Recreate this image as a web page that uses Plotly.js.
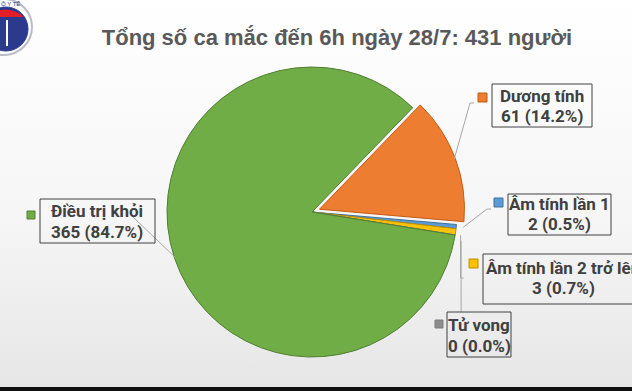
<!DOCTYPE html>
<html>
<head>
<meta charset="utf-8">
<script src="https://cdn.plot.ly/plotly-3.0.1.min.js"></script>
<style>
  html, body { margin: 0; padding: 0; }
  body { width: 632px; height: 391px; overflow: hidden;
         background: linear-gradient(to bottom, #ffffff 0%, #f6f6f6 55%, #e6e6e6 100%); }
  #chart { width: 632px; height: 391px; }
</style>
</head>
<body>
<div id="chart"></div>
<script>
// ---- data ----
const titleText = "Tổng số ca mắc đến 6h ngày 28/7: 431 người";
const categories = ["Dương tính", "Âm tính lần 1", "Âm tính lần 2 trở lên", "Tử vong", "Điều trị khỏi"];
const values = [61, 2, 3, 0, 365];
const percentLabels = ["14.2%", "0.5%", "0.7%", "0.0%", "84.7%"];
const sliceColors = ["#ED7D31", "#5B9BD5", "#FFC000", "#A5A5A5", "#70AD47"];
const sliceLines = ["#C55A11", "#41719C", "#BF9000", "#7F7F7F", "#507E32"];
const squareColors = ["#ED7D31", "#5B9BD5", "#FFC000", "#8C8C8C", "#70AD47"];

// ---- layout geometry (pixels) ----
const W = 632, H = 391;
const px = x => x / W;
const py = y => 1 - y / H;
const cx = 312, cy = 212, R = 145;
const pull = 0.055;
const rotation = 44;
const domHalfH = R * (1 + pull);

// label boxes: [left, right, top, bottom], text centre x, line y's, square
const labelBoxes = [
  {box: [492, 592, 84, 127], tx: 542, y1: 96, y2: 116, sq: [478, 487, 93, 102]},
  {box: [508, 611, 194, 235], tx: 559, y1: 204, y2: 224, sq: [494, 503, 198, 207]},
  {box: [483, 645, 254, 304], tx: 563, y1: 268, y2: 288, sq: [469, 478, 259, 268]},
  {box: [447, 511, 312, 357], tx: 479, y1: 325, y2: 346, sq: [435, 443, 320, 328]},
  {box: [40, 155, 199, 243], tx: 97, y1: 211, y2: 232, sq: [27, 35, 211, 219]}
];

// slice mid angles from data
const total = values.reduce((a, b) => a + b, 0);
let cum = 0;
const midAngles = values.map(v => { const a = rotation + (cum + v / 2) / total * 360; cum += v; return a; });
function piePt(i, rr) {
  const a = midAngles[i] * Math.PI / 180;
  let ox = cx, oy = cy;
  if (i === 0) { ox += R * pull * Math.sin(a); oy -= R * pull * Math.cos(a); }
  return [ox + rr * Math.sin(a), oy - rr * Math.cos(a)];
}

const shapes = [];
const annotations = [];
const line = {color: "#A6A6A6", width: 1};

// leader lines
{
  const p0 = piePt(0, R - 1);
  shapes.push({type: "path", xref: "paper", yref: "paper", line,
    path: `M${px(p0[0])},${py(p0[1])} L${px(470)},${py(103)} L${px(474)},${py(103)}`});
  const p1 = piePt(1, R + 7);
  shapes.push({type: "path", xref: "paper", yref: "paper", line,
    path: `M${px(p1[0])},${py(p1[1])} L${px(487)},${py(209)} L${px(491)},${py(209)}`});
  const p2 = piePt(2, R + 3);
  shapes.push({type: "path", xref: "paper", yref: "paper", line,
    path: `M${px(p2[0] + 2)},${py(p2[1] + 3)} L${px(p2[0] + 2)},${py(278)} L${px(p2[0] + 5)},${py(278)}`});
  const p3 = piePt(3, R + 5);
  shapes.push({type: "path", xref: "paper", yref: "paper", line,
    path: `M${px(p3[0] + 1)},${py(p3[1] + 5)} L${px(p3[0] + 1)},${py(312)}`});
  const p4 = piePt(4, R - 1);
  shapes.push({type: "path", xref: "paper", yref: "paper", line,
    path: `M${px(p4[0])},${py(p4[1])} L${px(133)},${py(217)}`});
}

const labelFont = {family: "Roboto, 'Open Sans', sans-serif", size: 17, color: "#404040", weight: 700};
labelBoxes.forEach((b, i) => {
  shapes.push({type: "rect", xref: "paper", yref: "paper",
    x0: px(b.box[0]), x1: px(b.box[1]), y0: py(b.box[3]), y1: py(b.box[2]),
    line: {color: "#404040", width: 1}, fillcolor: "rgba(0,0,0,0)"});
  shapes.push({type: "rect", xref: "paper", yref: "paper",
    x0: px(b.sq[0]), x1: px(b.sq[1]), y0: py(b.sq[3]), y1: py(b.sq[2]),
    line: {color: sliceLines[i], width: 1}, fillcolor: squareColors[i]});
  annotations.push({xref: "paper", yref: "paper", x: px(b.tx), y: py(b.y1), text: categories[i],
    showarrow: false, xanchor: "center", yanchor: "middle", font: labelFont});
  annotations.push({xref: "paper", yref: "paper", x: px(b.tx), y: py(b.y2),
    text: values[i] + " (" + percentLabels[i] + ")",
    showarrow: false, xanchor: "center", yanchor: "middle", font: labelFont});
});

// logo (decorative)
shapes.push({type: "circle", xref: "paper", yref: "paper", x0: px(-24), x1: px(32), y0: py(55), y1: py(-1),
  line: {color: "#B9BCC4", width: 2}, fillcolor: "#ffffff"});
shapes.push({type: "circle", xref: "paper", yref: "paper", x0: px(-16), x1: px(28), y0: py(51), y1: py(7),
  line: {color: "#2B3A8C", width: 1}, fillcolor: "#2B3A8C"});
shapes.push({type: "path", xref: "paper", yref: "paper", line: {width: 0}, fillcolor: "#E21F26",
  path: `M${px(-12)},${py(17)} Q${px(6)},${py(2)} ${px(24)},${py(17)} Z`});
shapes.push({type: "line", xref: "paper", yref: "paper", x0: px(7), x1: px(7), y0: py(20), y1: py(46),
  line: {color: "#ffffff", width: 2}});
annotations.push({xref: "paper", yref: "paper", x: px(10), y: py(4), text: "Ộ Y TẾ", showarrow: false,
  font: {family: "Liberation Sans", size: 6, color: "#2B3A8C"}, xanchor: "center", yanchor: "middle"});

const data = [{
  type: "pie",
  labels: categories,
  values: values,
  sort: false,
  direction: "clockwise",
  rotation: rotation,
  pull: [pull, 0, 0, 0, 0],
  marker: {colors: sliceColors, line: {color: sliceLines, width: 1}},
  textinfo: "none",
  hoverinfo: "none",
  showlegend: false,
  domain: {x: [px(cx - 190), px(cx + 190)], y: [py(cy + domHalfH), py(cy - domHalfH)]}
}];

const layout = {
  width: W, height: H,
  margin: {l: 0, r: 0, t: 0, b: 0},
  paper_bgcolor: "rgba(0,0,0,0)",
  plot_bgcolor: "rgba(0,0,0,0)",
  showlegend: false,
  title: {text: titleText, x: px(337), xanchor: "center", y: py(37), yanchor: "middle",
    font: {family: "'Liberation Sans', Arial, sans-serif", size: 22, color: "#595959", weight: 700}},
  shapes: shapes.concat([{type: "rect", xref: "paper", yref: "paper", x0: 0, x1: 1, y0: py(391), y1: py(387),
    line: {width: 0}, fillcolor: "#111111"}]),
  annotations: annotations
};

Plotly.newPlot("chart", data, layout, {staticPlot: true, displayModeBar: false});
</script>
</body>
</html>
